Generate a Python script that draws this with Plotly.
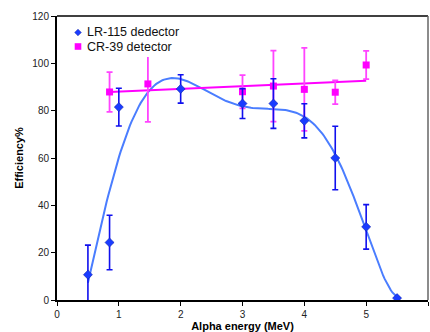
import numpy as np
import plotly.graph_objects as go

# LR-115 data
lr_x = [0.5, 0.85, 1.0, 2.0, 3.0, 3.5, 4.0, 4.5, 5.0, 5.5]
lr_y = [10.7, 24.3, 81.5, 89.2, 83.0, 83.0, 75.7, 60.0, 30.9, 0.8]
lr_err = [12.5, 11.5, 8.0, 6.0, 6.3, 10.5, 7.2, 13.4, 9.4, 0.0]

# CR-39 data
cr_x = [0.85, 1.47, 3.0, 3.5, 4.0, 4.5, 5.0]
cr_y = [87.9, 91.3, 88.0, 90.4, 89.0, 87.8, 99.3]
cr_err = [8.4, 16.0, 7.0, 15.0, 17.5, 5.0, 6.0]

series_names = ["LR-115 dedector", "CR-39 detector"]
x_ticks = [0, 1, 2, 3, 4, 5, 6]
y_ticks = [0, 20, 40, 60, 80, 100, 120]

# trendlines derived from the data
lr_poly = np.polyfit(lr_x, lr_y, 6)
lr_cx = np.linspace(min(lr_x), max(lr_x), 200)
lr_cy = np.polyval(lr_poly, lr_cx)

cr_poly = np.polyfit(cr_x, cr_y, 1)
cr_cx = np.array([min(cr_x), max(cr_x)])
cr_cy = np.polyval(cr_poly, cr_cx)

blue_m = "#1a3cff"
blue_e = "#1010ee"
blue_l = "#4a7dff"
pink = "#ff00ff"
pink_e = "#ff44ff"

fig = go.Figure()
fig.add_trace(go.Scatter(x=lr_cx, y=lr_cy, mode="lines",
                         line=dict(color=blue_l, width=2), hoverinfo="skip"))
fig.add_trace(go.Scatter(x=cr_cx, y=cr_cy, mode="lines",
                         line=dict(color=pink, width=2), hoverinfo="skip"))
fig.add_trace(go.Scatter(x=cr_x, y=cr_y, mode="markers", name=series_names[1],
                         marker=dict(symbol="square", size=7, color=pink),
                         error_y=dict(type="data", array=cr_err, color=pink_e,
                                      thickness=1.8, width=3)))
fig.add_trace(go.Scatter(x=lr_x, y=lr_y, mode="markers", name=series_names[0],
                         marker=dict(symbol="diamond", size=7, color=blue_m,
                                     line=dict(color="#0a1aa0", width=0.5)),
                         error_y=dict(type="data", array=lr_err, color=blue_e,
                                      thickness=1.6, width=3)))

# manual legend (paper coordinates)
L, R, T, B = 57, 428, 16, 300
def px(x):
    return (x - L) / (R - L)
def py(y):
    return (B - y) / (B - T)

legend_shapes = []
legend_shapes.append(dict(
    type="rect", xref="paper", yref="paper", layer="above",
    x0=px(70), x1=px(195), y0=py(57), y1=py(22),
    fillcolor="white", line=dict(width=0)))
gx, gy1, gy2, h = 78, 32.5, 46.5, 3.3
legend_shapes.append(dict(
    type="path", xref="paper", yref="paper", layer="above",
    path=f"M {px(gx - h)} {py(gy1)} L {px(gx)} {py(gy1 - h)} L {px(gx + h)} {py(gy1)} L {px(gx)} {py(gy1 + h)} Z",
    fillcolor=blue_m, line=dict(color="#0a1aa0", width=0.5)))
legend_shapes.append(dict(
    type="rect", xref="paper", yref="paper", layer="above",
    x0=px(gx - 3.3), x1=px(gx + 3.3), y0=py(gy2 + 3.3), y1=py(gy2 - 3.3),
    fillcolor=pink, line=dict(width=0)))

annotations = [
    dict(x=px(86), y=py(gy1), xref="paper", yref="paper", text=series_names[0],
         showarrow=False, xanchor="left", yanchor="middle", borderpad=0,
         font=dict(size=12.5, color="#111")),
    dict(x=px(86), y=py(gy2), xref="paper", yref="paper", text=series_names[1],
         showarrow=False, xanchor="left", yanchor="middle", borderpad=0,
         font=dict(size=12.5, color="#111")),
]

fig.update_layout(
    width=430, height=332,
    margin=dict(l=57, r=2, t=16, b=32),
    plot_bgcolor="white", paper_bgcolor="white",
    font=dict(family="Liberation Sans, Arial, sans-serif", size=10, color="#222"),
    showlegend=False,
    xaxis=dict(range=[0, 6], tickvals=x_ticks, showgrid=False, zeroline=False,
               showline=True, linecolor="black", linewidth=2,
               ticks="outside", ticklen=4, tickcolor="black",
               title=dict(text="<b>Alpha energy (MeV)</b>", standoff=2,
                          font=dict(size=11, color="black"))),
    yaxis=dict(range=[0, 120], tickvals=y_ticks, showgrid=False, zeroline=False,
               showline=True, linecolor="black", linewidth=2,
               ticks="outside", ticklen=4, tickcolor="black",
               title=dict(text="<b>Efficiency%</b>", standoff=6,
                          font=dict(size=11, color="black"))),
    shapes=[
        dict(type="line", xref="paper", yref="paper", x0=0, x1=1, y0=1, y1=1,
             line=dict(color="black", width=1.5)),
        dict(type="line", xref="paper", yref="paper", x0=1, x1=1, y0=0, y1=1,
             line=dict(color="#666", width=1.5)),
    ] + legend_shapes,
    annotations=annotations,
)

fig.write_html("out.html")
